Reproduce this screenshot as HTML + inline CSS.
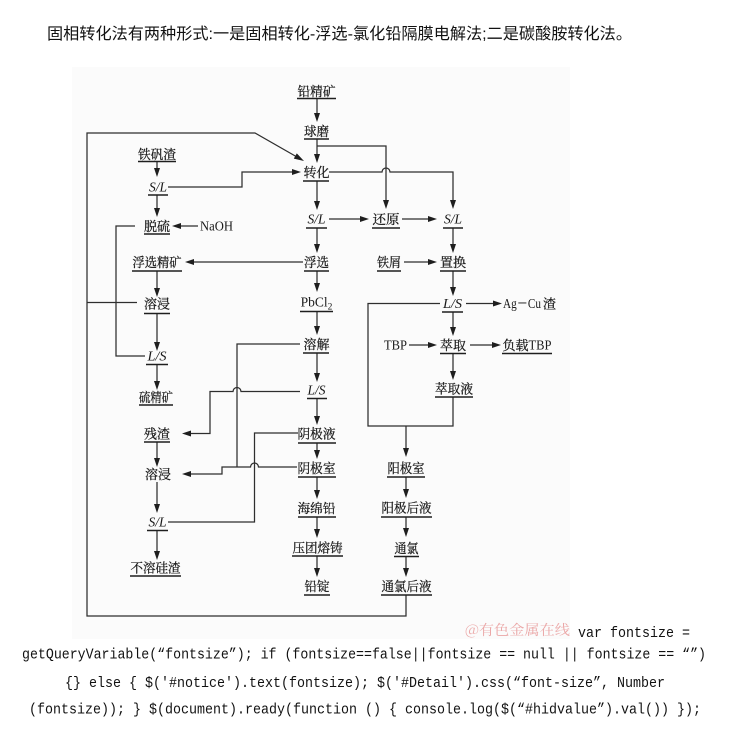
<!DOCTYPE html>
<html><head><meta charset="utf-8">
<style>
html,body{margin:0;padding:0;background:#fff;}
svg{display:block;}
.cj{font-family:"Noto Serif CJK SC","Liberation Serif",serif;font-size:13px;fill:#1a1a1a;stroke:#1a1a1a;stroke-width:0.25;}
.lt{font-family:"Liberation Serif",serif;font-size:13.5px;fill:#1a1a1a;}
.it{font-family:"Liberation Serif",serif;font-size:13.5px;font-style:italic;fill:#1a1a1a;}
.ln{stroke:#2e2e2e;stroke-width:1.25;fill:none;}
.ul{stroke:#1e1e1e;stroke-width:1.5;}
.ah{fill:#1e1e1e;}
.code{font-family:"Liberation Mono",monospace;font-size:15px;fill:#111;}
</style></head>
<body>
<svg width="730" height="756" viewBox="0 0 730 756" xmlns="http://www.w3.org/2000/svg">
<rect x="0" y="0" width="730" height="756" fill="#fff"/>
<text x="47" y="39" textLength="585" lengthAdjust="spacingAndGlyphs" style="font-family:'Liberation Sans','Noto Sans CJK SC',sans-serif;font-size:16px;fill:#111;">固相转化法有两种形式:一是固相转化-浮选-氯化铅隔膜电解法;二是碳酸胺转化法。</text>

<rect x="72" y="67" width="498" height="572" fill="#fbfbfb"/>

<!-- connectors -->
<g class="ln">
<line x1="317" y1="99" x2="317" y2="115"/>
<line x1="317" y1="139.5" x2="317" y2="156"/>
<line x1="317" y1="181.5" x2="317" y2="203"/>
<line x1="317" y1="228.5" x2="317" y2="246"/>
<line x1="317" y1="271.5" x2="317" y2="285"/>
<line x1="317" y1="312" x2="317" y2="328"/>
<line x1="317" y1="353.5" x2="317" y2="375"/>
<line x1="317" y1="399" x2="317" y2="418"/>
<line x1="317" y1="443.5" x2="317" y2="452"/>
<line x1="317" y1="477.5" x2="317" y2="492"/>
<line x1="317" y1="517.5" x2="317" y2="531"/>
<line x1="317" y1="556.5" x2="317" y2="570"/>
<line x1="157" y1="162" x2="157" y2="170"/>
<line x1="157" y1="195" x2="157" y2="210"/>
<line x1="157" y1="271.5" x2="157" y2="290"/>
<line x1="157" y1="314" x2="157" y2="344"/>
<line x1="157" y1="365" x2="157" y2="383"/>
<line x1="157" y1="442.5" x2="157" y2="460"/>
<line x1="157" y1="482" x2="157" y2="506"/>
<line x1="157" y1="531" x2="157" y2="553"/>
<polyline points="317,146 386,146 386,202"/>
<path d="M329 172 H382 A4 4 0 0 1 390 172 H453 V202"/>
<line x1="329" y1="219" x2="362" y2="219"/>
<line x1="402" y1="219" x2="430" y2="219"/>
<line x1="453" y1="228.5" x2="453" y2="246"/>
<line x1="404" y1="262" x2="430" y2="262"/>
<line x1="453" y1="271.5" x2="453" y2="289"/>
<line x1="466" y1="303.5" x2="495" y2="303.5"/>
<line x1="453" y1="312.5" x2="453" y2="329"/>
<line x1="409" y1="345" x2="430" y2="345"/>
<line x1="470" y1="345" x2="494" y2="345"/>
<line x1="453" y1="354" x2="453" y2="373"/>
<polyline points="440,303.5 368,303.5 368,426 453,426 453,397.5"/>
<line x1="406" y1="426" x2="406" y2="450"/>
<line x1="406" y1="477.5" x2="406" y2="491"/>
<line x1="406" y1="517.5" x2="406" y2="530"/>
<line x1="406" y1="556.5" x2="406" y2="570"/>
<polyline points="406,595.5 406,616 87,616 87,133 255,133 297,157"/>
<line x1="87" y1="302.5" x2="137" y2="302.5"/>
<polyline points="168,187 242,187 242,172 294,172"/>
<line x1="198" y1="226" x2="179" y2="226"/>
<line x1="303" y1="262" x2="192" y2="262"/>
<polyline points="135,226 116,226 116,356 145,356"/>
<polyline points="300,344 237,344 237,467"/>
<path d="M300 391.5 H241 A4 4 0 0 0 233 391.5 H210 V433.5 H189"/>
<polyline points="298,433 254.5,433 254.5,522 168,522"/>
<path d="M297 467 H258.5 A4 4 0 0 0 250.5 467 H222 V474 H189"/>
</g>

<!-- arrowheads -->
<g class="ah">
<polygon points="317,122 314,113 320,113"/>
<polygon points="317,163 314,154 320,154"/>
<polygon points="317,210 314,201 320,201"/>
<polygon points="317,253 314,244 320,244"/>
<polygon points="317,292 314,283 320,283"/>
<polygon points="317,335 314,326 320,326"/>
<polygon points="317,382 314,373 320,373"/>
<polygon points="317,425 314,416 320,416"/>
<polygon points="317,459 314,450 320,450"/>
<polygon points="317,499 314,490 320,490"/>
<polygon points="317,538 314,529 320,529"/>
<polygon points="317,577 314,568 320,568"/>
<polygon points="157,177 154,168 160,168"/>
<polygon points="157,217 154,208 160,208"/>
<polygon points="157,297 154,288 160,288"/>
<polygon points="157,351 154,342 160,342"/>
<polygon points="157,390 154,381 160,381"/>
<polygon points="157,467 154,458 160,458"/>
<polygon points="157,513 154,504 160,504"/>
<polygon points="157,560 154,551 160,551"/>
<polygon points="386,209 383,200 389,200"/>
<polygon points="453,209 450,200 456,200"/>
<polygon points="369,219 360,216 360,222"/>
<polygon points="437,219 428,216 428,222"/>
<polygon points="453,253 450,244 456,244"/>
<polygon points="437,262 428,259 428,265"/>
<polygon points="453,296 450,287 456,287"/>
<polygon points="502,303.5 493,300.5 493,306.5"/>
<polygon points="453,336 450,327 456,327"/>
<polygon points="437,345 428,342 428,348"/>
<polygon points="501,345 492,342 492,348"/>
<polygon points="453,380 450,371 456,371"/>
<polygon points="406,457 403,448 409,448"/>
<polygon points="406,498 403,489 409,489"/>
<polygon points="406,537 403,528 409,528"/>
<polygon points="406,577 403,568 409,568"/>
<polygon points="304,161 293.8,158.6 296.8,153.4"/>
<polygon points="301,172 292,169 292,175"/>
<polygon points="172,226 181,223 181,229"/>
<polygon points="185,262 194,259 194,265"/>
<polygon points="182,433.5 191,430.5 191,436.5"/>
<polygon points="182,474 191,471 191,477"/>
</g>

<!-- underlines -->
<g class="ul">
<line x1="297" y1="98.5" x2="336" y2="98.5"/>
<line x1="304" y1="139" x2="329" y2="139"/>
<line x1="303" y1="181" x2="329" y2="181"/>
<line x1="306" y1="228" x2="327" y2="228"/>
<line x1="304" y1="271" x2="329" y2="271"/>
<line x1="300" y1="311.5" x2="333" y2="311.5"/>
<line x1="303" y1="353" x2="329" y2="353"/>
<line x1="307" y1="398.5" x2="327" y2="398.5"/>
<line x1="298" y1="443" x2="336" y2="443"/>
<line x1="298" y1="477" x2="336" y2="477"/>
<line x1="298" y1="517" x2="336" y2="517"/>
<line x1="292" y1="556" x2="343" y2="556"/>
<line x1="304" y1="595" x2="330" y2="595"/>
<line x1="138" y1="161.5" x2="176" y2="161.5"/>
<line x1="148" y1="195" x2="168" y2="195"/>
<line x1="144" y1="234" x2="170" y2="234"/>
<line x1="132" y1="271" x2="182" y2="271"/>
<line x1="144" y1="313.5" x2="170" y2="313.5"/>
<line x1="146" y1="364.5" x2="168" y2="364.5"/>
<line x1="139" y1="405" x2="173" y2="405"/>
<line x1="144" y1="442" x2="170" y2="442"/>
<line x1="147" y1="530.5" x2="168" y2="530.5"/>
<line x1="130" y1="576" x2="181" y2="576"/>
<line x1="372" y1="228" x2="400" y2="228"/>
<line x1="443" y1="228" x2="463" y2="228"/>
<line x1="377" y1="271" x2="401" y2="271"/>
<line x1="440" y1="271" x2="466" y2="271"/>
<line x1="442" y1="312" x2="463" y2="312"/>
<line x1="440" y1="353.5" x2="466" y2="353.5"/>
<line x1="502" y1="353.5" x2="552" y2="353.5"/>
<line x1="435" y1="397" x2="473" y2="397"/>
<line x1="387" y1="477" x2="425" y2="477"/>
<line x1="381" y1="517" x2="432" y2="517"/>
<line x1="394" y1="556.5" x2="419" y2="556.5"/>
<line x1="381" y1="595" x2="432" y2="595"/>
</g>

<!-- labels -->
<g text-anchor="middle">
<text class="cj" x="316.5" y="96" textLength="38" lengthAdjust="spacingAndGlyphs">铅精矿</text>
<text class="cj" x="316.5" y="136" textLength="25" lengthAdjust="spacingAndGlyphs">球磨</text>
<text class="cj" x="316.5" y="177" textLength="26" lengthAdjust="spacingAndGlyphs">转化</text>
<text class="it" x="316.5" y="223.5" textLength="18" lengthAdjust="spacingAndGlyphs">S/L</text>
<text class="cj" x="316.5" y="267" textLength="25" lengthAdjust="spacingAndGlyphs">浮选</text>
<text class="lt" x="316.5" y="306.5">PbCl<tspan font-size="9.5" dy="3">2</tspan></text>
<text class="cj" x="316.5" y="349" textLength="26" lengthAdjust="spacingAndGlyphs">溶解</text>
<text class="it" x="316.5" y="394.5" textLength="18" lengthAdjust="spacingAndGlyphs">L/S</text>
<text class="cj" x="316.5" y="438.5" textLength="38" lengthAdjust="spacingAndGlyphs">阴极液</text>
<text class="cj" x="316.5" y="473" textLength="38" lengthAdjust="spacingAndGlyphs">阴极室</text>
<text class="cj" x="316.5" y="513" textLength="38" lengthAdjust="spacingAndGlyphs">海绵铅</text>
<text class="cj" x="317.5" y="552.5" textLength="50" lengthAdjust="spacingAndGlyphs">压团熔铸</text>
<text class="cj" x="317" y="591" textLength="25" lengthAdjust="spacingAndGlyphs">铅锭</text>
<text class="cj" x="157" y="159" textLength="38" lengthAdjust="spacingAndGlyphs">铁矾渣</text>
<text class="it" x="158" y="191.5" textLength="18" lengthAdjust="spacingAndGlyphs">S/L</text>
<text class="cj" x="157" y="231" textLength="26" lengthAdjust="spacingAndGlyphs">脱硫</text>
<text class="lt" x="216.5" y="230.5" textLength="33" lengthAdjust="spacingAndGlyphs">NaOH</text>
<text class="cj" x="157" y="267" textLength="49" lengthAdjust="spacingAndGlyphs">浮选精矿</text>
<text class="cj" x="157" y="308.5" textLength="26" lengthAdjust="spacingAndGlyphs">溶浸</text>
<text class="it" x="157" y="360.5" textLength="19" lengthAdjust="spacingAndGlyphs">L/S</text>
<text class="cj" x="156" y="402" textLength="34" lengthAdjust="spacingAndGlyphs">硫精矿</text>
<text class="cj" x="157" y="438.5" textLength="26" lengthAdjust="spacingAndGlyphs">残渣</text>
<text class="cj" x="158" y="479" textLength="26" lengthAdjust="spacingAndGlyphs">溶浸</text>
<text class="it" x="157.5" y="526.5" textLength="18" lengthAdjust="spacingAndGlyphs">S/L</text>
<text class="cj" x="155.5" y="572.5" textLength="50" lengthAdjust="spacingAndGlyphs">不溶硅渣</text>
<text class="cj" x="386" y="224" textLength="27" lengthAdjust="spacingAndGlyphs">还原</text>
<text class="it" x="453" y="223.5" textLength="18" lengthAdjust="spacingAndGlyphs">S/L</text>
<text class="cj" x="389" y="267" textLength="24" lengthAdjust="spacingAndGlyphs">铁屑</text>
<text class="cj" x="453" y="267" textLength="26" lengthAdjust="spacingAndGlyphs">置换</text>
<text class="it" x="452.5" y="308" textLength="19" lengthAdjust="spacingAndGlyphs">L/S</text>
<text class="cj" x="453" y="350" textLength="26" lengthAdjust="spacingAndGlyphs">萃取</text>
<text class="cj" x="454" y="393.5" textLength="38" lengthAdjust="spacingAndGlyphs">萃取液</text>
<text class="cj" x="406" y="473" textLength="37" lengthAdjust="spacingAndGlyphs">阳极室</text>
<text class="cj" x="406.5" y="512.5" textLength="50" lengthAdjust="spacingAndGlyphs">阳极后液</text>
<text class="cj" x="406.5" y="553" textLength="24" lengthAdjust="spacingAndGlyphs">通氯</text>
<text class="cj" x="406.5" y="591" textLength="50" lengthAdjust="spacingAndGlyphs">通氯后液</text>
</g>

<text class="lt" x="503" y="308" textLength="38" lengthAdjust="spacingAndGlyphs">Ag－Cu</text>
<text class="cj" x="543" y="308.5">渣</text>
<text class="lt" x="384" y="349.5" textLength="23" lengthAdjust="spacingAndGlyphs">TBP</text>
<text class="cj" x="502.5" y="350" textLength="26" lengthAdjust="spacingAndGlyphs">负载</text>
<text class="lt" x="528.5" y="349.5" textLength="23" lengthAdjust="spacingAndGlyphs">TBP</text>

<text x="465" y="635" textLength="105" lengthAdjust="spacingAndGlyphs" style="font-family:'Noto Serif CJK SC',serif;font-size:14px;fill:#eba7a7;">@有色金属在线</text>

<text class="code" x="578" y="637" textLength="112" lengthAdjust="spacingAndGlyphs">var fontsize =</text>
<text class="code" x="22" y="658.5" textLength="684" lengthAdjust="spacingAndGlyphs">getQueryVariable(“fontsize”); if (fontsize==false||fontsize == null || fontsize == “”)</text>
<text class="code" x="65" y="687" textLength="600" lengthAdjust="spacingAndGlyphs">{} else { $('#notice').text(fontsize); $('#Detail').css(“font-size”, Number</text>
<text class="code" x="29" y="713.5" textLength="672" lengthAdjust="spacingAndGlyphs">(fontsize)); } $(document).ready(function () { console.log($(“#hidvalue”).val()) });</text>
</svg>
</body></html>
